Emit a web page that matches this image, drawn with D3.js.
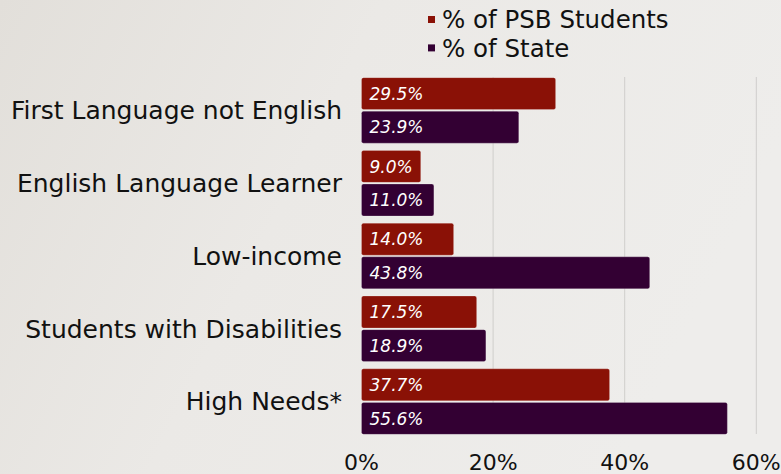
<!DOCTYPE html>
<html>
<head>
<meta charset="utf-8">
<script src="https://cdn.jsdelivr.net/npm/d3@7"></script>
<style>
  body { margin: 0; background: #ecebe9; }
  svg { display: block; }
  text { font-family: "DejaVu Sans", sans-serif; }
</style>
</head>
<body>
<div id="chart"></div>
<script>
var categories = ["First Language not English", "English Language Learner", "Low-income", "Students with Disabilities", "High Needs*"];
var seriesNames = ["% of PSB Students", "% of State"];
var psbValues = [29.5, 9.0, 14.0, 17.5, 37.7];
var stateValues = [23.9, 11.0, 43.8, 18.9, 55.6];
var xTicks = [0, 20, 40, 60];
var colors = ["#8a1106", "#330033"];

var width = 781, height = 474;

var svg = d3.select("#chart")
  .append("svg")
    .attr("width", width)
    .attr("height", height);

// faded background
var defs = svg.append("defs");
var grad = defs.append("linearGradient").attr("id", "bg")
  .attr("x1", 0).attr("x2", 1).attr("y1", 0).attr("y2", 0.3);
grad.append("stop").attr("offset", "0%").attr("stop-color", "#e2dfda");
grad.append("stop").attr("offset", "45%").attr("stop-color", "#ebe9e6");
grad.append("stop").attr("offset", "100%").attr("stop-color", "#eeedeb");
svg.append("rect").attr("width", width).attr("height", height).attr("fill", "url(#bg)");

var data = categories.map(function(c, i) {
  return {cat: c, values: [psbValues[i], stateValues[i]]};
});

var x = d3.scaleLinear()
  .domain([0, 60])
  .range([361.5, 756.3]);

var y = d3.scaleBand()
  .domain(categories)
  .range([74, 438])
  .paddingInner(0.1)
  .paddingOuter(0.05);

var ySub = d3.scaleBand()
  .domain([0, 1])
  .range([0, y.bandwidth()])
  .paddingInner(0.05);

// gridlines
svg.append("g")
  .selectAll("line")
  .data(xTicks.slice(1))
  .enter()
  .append("line")
    .attr("x1", function(d) { return x(d); })
    .attr("x2", function(d) { return x(d); })
    .attr("y1", 77)
    .attr("y2", 434)
    .attr("stroke", "#cfcecc")
    .attr("stroke-width", 1);

// x axis labels
svg.append("g")
  .selectAll("text")
  .data(xTicks)
  .enter()
  .append("text")
    .attr("x", function(d) { return x(d); })
    .attr("y", 470)
    .attr("text-anchor", "middle")
    .attr("font-size", 22)
    .attr("fill", "#111")
    .text(function(d) { return d + "%"; });

// category labels
svg.append("g")
  .selectAll("text")
  .data(categories)
  .enter()
  .append("text")
    .attr("x", 342)
    .attr("y", function(d) { return y(d) + y.bandwidth() / 2; })
    .attr("dy", "0.35em")
    .attr("text-anchor", "end")
    .attr("font-size", 25)
    .attr("fill", "#111")
    .text(function(d) { return d; });

// bars
var groups = svg.append("g")
  .selectAll("g")
  .data(data)
  .enter()
  .append("g")
    .attr("transform", function(d) { return "translate(0," + y(d.cat) + ")"; });

groups.selectAll("rect")
  .data(function(d) { return d.values; })
  .enter()
  .append("rect")
    .attr("x", x(0))
    .attr("y", function(d, i) { return ySub(i); })
    .attr("width", function(d) { return x(d) - x(0); })
    .attr("height", ySub.bandwidth())
    .attr("rx", 2)
    .attr("fill", function(d, i) { return colors[i]; })
    .attr("stroke", "rgba(255,255,255,0.35)")
    .attr("stroke-width", 0.6);

groups.selectAll("text")
  .data(function(d) { return d.values; })
  .enter()
  .append("text")
    .attr("x", x(0) + 8)
    .attr("y", function(d, i) { return ySub(i) + ySub.bandwidth() / 2; })
    .attr("dy", "0.36em")
    .attr("font-size", 17)
    .attr("font-style", "italic")
    .attr("fill", "#fff")
    .text(function(d) { return d.toFixed(1) + "%"; });

// legend
var legend = svg.append("g")
  .selectAll("g")
  .data(seriesNames)
  .enter()
  .append("g")
    .attr("transform", function(d, i) { return "translate(428," + (19.5 + i * 28.4) + ")"; });

legend.append("rect")
  .attr("x", 0)
  .attr("y", -3.5)
  .attr("width", 7)
  .attr("height", 7)
  .attr("fill", function(d, i) { return colors[i]; });

legend.append("text")
  .attr("x", 14)
  .attr("y", 0)
  .attr("dy", "0.36em")
  .attr("font-size", 24.5)
  .attr("fill", "#111")
  .text(function(d) { return d; });
</script>
</body>
</html>
